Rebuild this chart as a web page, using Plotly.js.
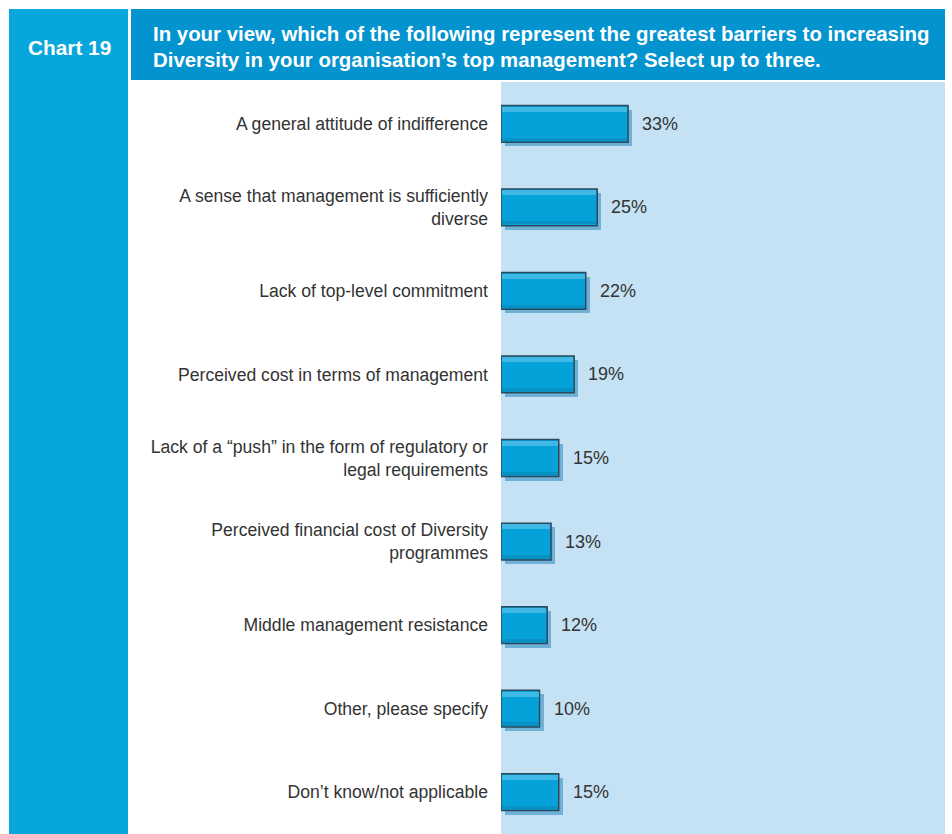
<!DOCTYPE html>
<html>
<head>
<meta charset="utf-8">
<script src="https://cdn.plot.ly/plotly-3.0.1.min.js"></script>
<style>html,body{margin:0;padding:0;background:#fff;}#chart{width:952px;height:834px;}</style>
</head>
<body>
<div id="chart"></div>
<script>
const categories = [
  "A general attitude of indifference",
  "A sense that management is sufficiently<br>diverse",
  "Lack of top-level commitment",
  "Perceived cost in terms of management",
  "Lack of a “push” in the form of regulatory or<br>legal requirements",
  "Perceived financial cost of Diversity<br>programmes",
  "Middle management resistance",
  "Other, please specify",
  "Don’t know/not applicable"
];
const values = [33, 25, 22, 19, 15, 13, 12, 10, 15];
const valueLabels = values.map(v => v + "%");
const chartLabel = "Chart 19";
const titleText = "In your view, which of the following represent the greatest barriers to increasing<br>Diversity in your organisation’s top management? Select up to three.";

const FONT = "Liberation Sans, Arial, sans-serif";
const BW = 0.44;
const shadow = {
  type: "bar", orientation: "h", y: categories, x: values, base: 1.05,
  width: BW, offset: -BW/2 + 0.05,
  marker: {color: "#6fb0d6", line: {width: 0}},
  hoverinfo: "skip", showlegend: false
};
const main = {
  type: "bar", orientation: "h", y: categories, x: values,
  width: BW, offset: -BW/2,
  marker: {color: "#05a2d9", line: {color: "#2d4a5c", width: 1.5}},
  showlegend: false
};
const highlight = {
  type: "bar", orientation: "h", y: categories, x: values.map(v => v - 0.5), base: 0.25,
  width: 0.06, offset: -BW/2 + 0.015,
  marker: {color: "#3fb8e6", line: {width: 0}},
  hoverinfo: "skip", showlegend: false
};
const lowshade = {
  type: "bar", orientation: "h", y: categories, x: values.map(v => v - 0.5), base: 0.25,
  width: 0.04, offset: BW/2 - 0.055,
  marker: {color: "#0791c4", line: {width: 0}},
  hoverinfo: "skip", showlegend: false
};

const annotations = values.map((v, i) => ({
  x: v, y: categories[i], xref: "x", yref: "y",
  text: valueLabels[i], showarrow: false, xanchor: "left", xshift: 12,
  font: {family: FONT, size: 18, color: "#333333"}
}));
annotations.push({
  xref: "paper", yref: "paper", x: (69 - 501) / 444, y: 1 + 35/752,
  text: "<b>" + chartLabel + "</b>", showarrow: false, xanchor: "center", yanchor: "middle",
  font: {family: FONT, size: 20.8, color: "#ffffff"}
});

const layout = {
  width: 952, height: 834,
  margin: {l: 501, r: 7, t: 82, b: 0, pad: 0},
  paper_bgcolor: "#ffffff", plot_bgcolor: "#c4e2f3",
  barmode: "overlay", bargap: 0,
  title: {
    text: "<b>" + titleText + "</b>",
    x: 153/952, xanchor: "left", xref: "container",
    y: 1 - 40.5/834, yanchor: "middle", yref: "container",
    font: {family: FONT, size: 20.4, color: "#ffffff"}
  },
  xaxis: {range: [0, 115.3], showgrid: false, zeroline: false, showticklabels: false, ticks: "", fixedrange: true},
  yaxis: {
    type: "category", categoryorder: "array", categoryarray: categories,
    autorange: "reversed", showgrid: false, zeroline: false, ticks: "",
    ticklabelstandoff: 12,
    tickfont: {family: FONT, size: 17.6, color: "#333333"}
  },
  shapes: [
    {type: "rect", xref: "paper", yref: "paper", x0: (9 - 501)/444, x1: (128 - 501)/444, y0: 0, y1: 1 + 73/752, fillcolor: "#07a6dc", line: {width: 0}, layer: "below"},
    {type: "rect", xref: "paper", yref: "paper", x0: (131 - 501)/444, x1: 1, y0: 1 + 2/752, y1: 1 + 73/752, fillcolor: "#0394cf", line: {width: 0}, layer: "below"}
  ],
  annotations: annotations
};

Plotly.newPlot("chart", [shadow, main, highlight, lowshade], layout, {displayModeBar: false, staticPlot: true});
</script>
</body>
</html>
